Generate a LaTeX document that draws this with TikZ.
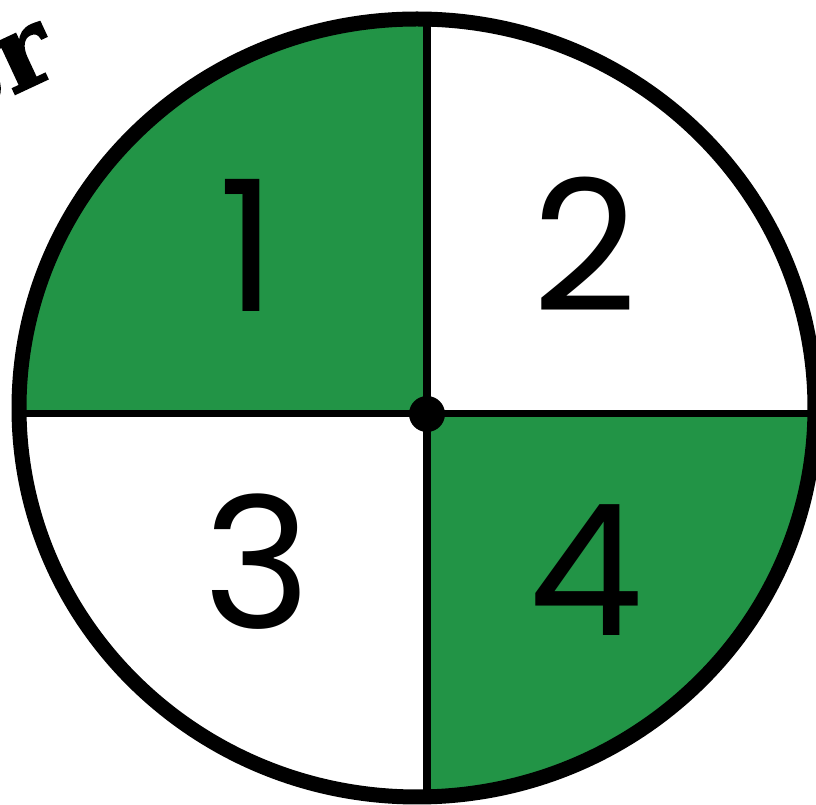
\documentclass[tikz,border=0pt]{standalone}
\usepackage{fontspec}
\newfontfamily\digitfont{Poppins}
\newfontfamily\titlefont[FakeBold=1.5]{DejaVu Serif}
\definecolor{spingreen}{RGB}{34,148,70}
\tikzset{
  rim/.style={line width=0.15cm, black},
  divider/.style={line width=0.07cm, black},
  digit/.style={font=\digitfont\fontsize{52}{52}\selectfont, inner sep=0pt}
}
\begin{document}
\begin{tikzpicture}
\useasboundingbox (0,0) rectangle (8.16,8.05);
\def\RX{3.98}
\def\RY{3.89}

% Middelpunt van de schijf en het kruispunt van de lijnen
\coordinate (mid) at (4.17,3.97);
\coordinate (hub) at (4.27,3.91);
\coordinate (top) at (4.27,8.2);
\coordinate (bottom) at (4.27,-0.2);
\coordinate (left) at (0,3.91);
\coordinate (right) at (8.4,3.91);

% Groene kwadranten 1 en 4
\begin{scope}
  \clip (mid) ellipse [x radius=\RX, y radius=\RY];
  \fill[spingreen] (hub) rectangle (-0.2,8.3);
  \fill[spingreen] (hub) rectangle (8.5,-0.3);
  \draw[divider] (top) -- (bottom);
  \draw[divider] (left) -- (right);
\end{scope}

% Rand en as
\draw[rim] (mid) ellipse [x radius=\RX, y radius=\RY];
\fill (hub) circle[radius=0.18];

% Nummers
\node[digit] (n1) at (2.48,5.60) {1};
\node[digit] (n2) at (5.85,5.61) {2};
\node[digit] (n3) at (2.57,2.43) {3};
\node[digit] (n4) at (5.86,2.35) {4};

% Afgesneden titel linksboven
\node[font=\titlefont\bfseries\fontsize{30}{30}\selectfont, anchor=base east,
  rotate=25, inner sep=0pt] (title) at (0.63,7.33) {er};
\end{tikzpicture}
\end{document}
